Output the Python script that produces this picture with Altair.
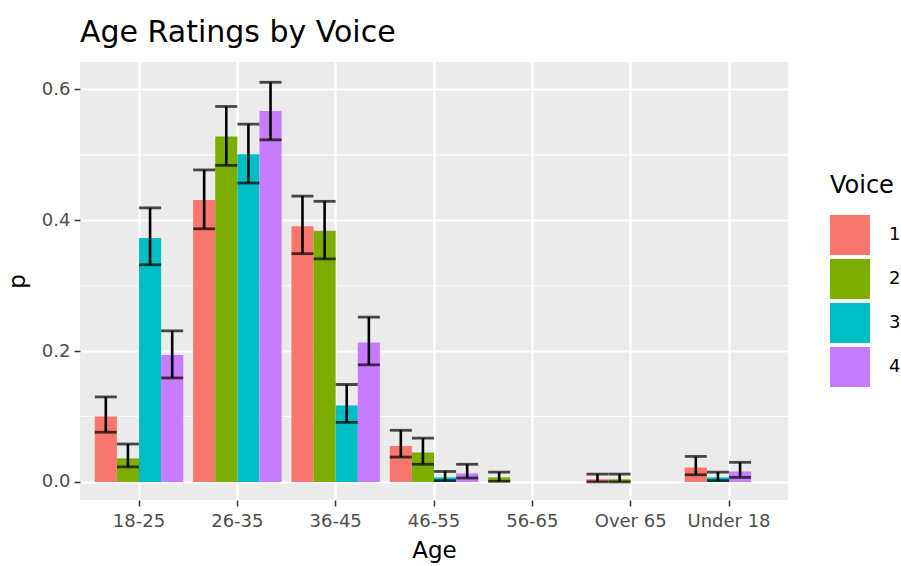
import altair as alt
import pandas as pd

# Proportion of listeners choosing each age band, per voice, with 95% limits
ages = ["18-25"] * 4 + ["26-35"] * 4 + ["36-45"] * 4 + ["46-55"] * 4 + ["56-65"] + ["Over 65"] * 2 + ["Under 18"] * 3
voices = ["1", "2", "3", "4"] * 4 + ["2"] + ["1", "2"] + ["1", "3", "4"]
p = [0.100, 0.036, 0.373, 0.194,
     0.431, 0.528, 0.501, 0.567,
     0.391, 0.384, 0.117, 0.213,
     0.055, 0.045, 0.007, 0.013,
     0.007,
     0.004, 0.004,
     0.022, 0.007, 0.016]
lower = [0.076, 0.023, 0.332, 0.159,
         0.387, 0.484, 0.457, 0.523,
         0.349, 0.341, 0.091, 0.179,
         0.038, 0.027, 0.002, 0.006,
         0.001,
         0.000, 0.000,
         0.011, 0.002, 0.007]
upper = [0.130, 0.058, 0.419, 0.231,
         0.477, 0.574, 0.547, 0.611,
         0.437, 0.429, 0.149, 0.252,
         0.079, 0.067, 0.016, 0.027,
         0.015,
         0.012, 0.012,
         0.039, 0.015, 0.030]

age_order = ["18-25", "26-35", "36-45", "46-55", "56-65", "Over 65", "Under 18"]
voice_order = ["1", "2", "3", "4"]
palette = ["#F8766D", "#7CAE00", "#00BFC4", "#C77CFF"]
minor_breaks = [0.1, 0.3, 0.5]

df = pd.DataFrame({"Age": ages, "Voice": voices, "p": p, "lower": lower, "upper": upper})
# dodge slot: bars present in an age band are packed from the left
df["slot"] = df.groupby("Age").cumcount()
minor_df = pd.DataFrame({"v": minor_breaks})

FONT = "DejaVu Sans"
W, H = 708, 438
y_dom = [-0.0276, 0.642]

x_enc = alt.X("Age:N", sort=age_order,
              scale=alt.Scale(domain=age_order, paddingInner=0.1, paddingOuter=0.15),
              axis=alt.Axis(title="Age", labelAngle=0, labelFontSize=18, labelColor="#4D4D4D",
                            labelFont=FONT, titleFont=FONT, titleFontSize=23, titleFontWeight="normal",
                            titleColor="black", tickColor="#333333", tickSize=6, tickWidth=1.5,
                            domain=False, grid=True, gridColor="white", gridWidth=2.2,
                            labelPadding=6, titlePadding=9))
xo_enc = alt.XOffset("slot:O", scale=alt.Scale(domain=[0, 1, 2, 3], paddingInner=0, paddingOuter=0))
y_scale = alt.Scale(domain=y_dom, nice=False, zero=False)

minor = alt.Chart(minor_df).mark_rule(color="white", strokeWidth=1.1).encode(
    y=alt.Y("v:Q", scale=y_scale)
)

bars = alt.Chart(df).mark_bar(strokeWidth=0).encode(
    x=x_enc,
    xOffset=xo_enc,
    y=alt.Y("p:Q", scale=y_scale,
            axis=alt.Axis(title="p", values=[0, 0.2, 0.4, 0.6], format=".1f", labelFontSize=18,
                          labelColor="#4D4D4D", labelFont=FONT, titleFont=FONT, titleFontSize=23,
                          titleFontWeight="normal", titleColor="black", tickColor="#333333",
                          tickSize=6, tickWidth=1.5, domain=False, grid=True, gridColor="white",
                          gridWidth=2.2, labelPadding=4, titlePadding=12)),
    y2=alt.datum(0),
    color=alt.Color("Voice:N", sort=voice_order,
                    scale=alt.Scale(domain=voice_order, range=palette),
                    legend=alt.Legend(title="Voice", orient="none", legendX=750, legendY=112,
                                      symbolType="square", symbolSize=1600, symbolStrokeWidth=0,
                                      symbolOpacity=1, titleFontSize=24, titleFont=FONT,
                                      titleFontWeight="normal", titleColor="black", titlePadding=17,
                                      labelFontSize=18, labelFont=FONT, labelColor="black",
                                      labelOffset=19, rowPadding=4)),
)

whisker = alt.Chart(df).mark_rule(color="black", strokeWidth=2.6).encode(
    x=alt.X("Age:N", sort=age_order), xOffset=alt.XOffset("slot:O"),
    y=alt.Y("lower:Q", scale=y_scale), y2="upper:Q"
)
cap_hi = alt.Chart(df).mark_tick(color="black", orient="horizontal", size=22, thickness=2.8).encode(
    x=alt.X("Age:N", sort=age_order), xOffset=alt.XOffset("slot:O"),
    y=alt.Y("upper:Q", scale=y_scale)
)
cap_lo = alt.Chart(df).mark_tick(color="black", orient="horizontal", size=22, thickness=2.8).encode(
    x=alt.X("Age:N", sort=age_order), xOffset=alt.XOffset("slot:O"),
    y=alt.Y("lower:Q", scale=y_scale)
)

chart = alt.layer(minor, bars, whisker, cap_hi, cap_lo).properties(
    width=W, height=H,
    title=alt.Title("Age Ratings by Voice", anchor="start", frame="group", fontSize=30, font=FONT,
                    fontWeight="normal", color="black", offset=14),
    autosize=alt.AutoSizeParams(type="none"),
    padding={"left": 80, "top": 62, "right": 113, "bottom": 66},
).configure(background="white").configure_view(fill="#EBEBEB", stroke=None)

chart.save("out.html", embed_options={"renderer": "svg", "actions": False})
